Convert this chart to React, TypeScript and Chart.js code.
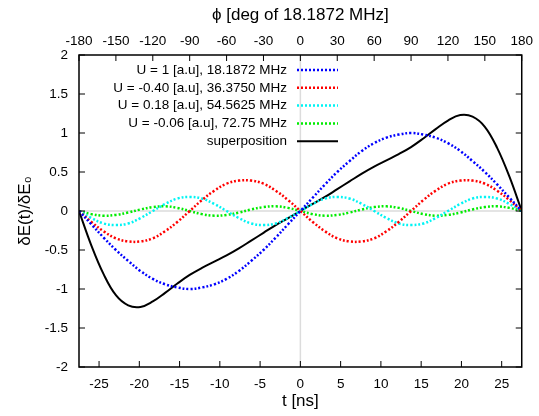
import React, { useEffect, useRef } from "react";
import { Chart, registerables } from "chart.js";

Chart.register(...registerables);

// phase of the 18.1872 MHz fundamental, degrees
const PHI = [
  -180, -170, -160, -150, -140, -130, -120, -110, -100, -90, -80, -70, -60, -50, -40, -30, -20, -10,
  0, 10, 20, 30, 40, 50, 60, 70, 80, 90, 100, 110, 120, 130, 140, 150, 160, 170, 180,
];

const U1 = [
  0, -0.17, -0.34, -0.5, -0.64, -0.77, -0.87, -0.94, -0.98, -1, -0.98, -0.94, -0.87, -0.77, -0.64, -0.5, -0.34, -0.17,
  0, 0.17, 0.34, 0.5, 0.64, 0.77, 0.87, 0.94, 0.98, 1, 0.98, 0.94, 0.87, 0.77, 0.64, 0.5, 0.34, 0.17, 0,
];
const U2 = [
  0, -0.14, -0.26, -0.35, -0.39, -0.39, -0.35, -0.26, -0.14, 0, 0.14, 0.26, 0.35, 0.39, 0.39, 0.35, 0.26, 0.14,
  0, -0.14, -0.26, -0.35, -0.39, -0.39, -0.35, -0.26, -0.14, 0, 0.14, 0.26, 0.35, 0.39, 0.39, 0.35, 0.26, 0.14, 0,
];
const U3 = [
  0, -0.09, -0.16, -0.18, -0.16, -0.09, 0, 0.09, 0.16, 0.18, 0.16, 0.09, 0, -0.09, -0.16, -0.18, -0.16, -0.09,
  0, 0.09, 0.16, 0.18, 0.16, 0.09, 0, -0.09, -0.16, -0.18, -0.16, -0.09, 0, 0.09, 0.16, 0.18, 0.16, 0.09, 0,
];
const U4 = [
  0, -0.04, -0.06, -0.05, -0.02, 0.02, 0.05, 0.06, 0.04, 0, -0.04, -0.06, -0.05, -0.02, 0.02, 0.05, 0.06, 0.04,
  0, -0.04, -0.06, -0.05, -0.02, 0.02, 0.05, 0.06, 0.04, 0, -0.04, -0.06, -0.05, -0.02, 0.02, 0.05, 0.06, 0.04, 0,
];
const SUM = [
  0, -0.44, -0.81, -1.08, -1.21, -1.23, -1.16, -1.05, -0.93, -0.82, -0.73, -0.65, -0.57, -0.48, -0.38, -0.28, -0.18, -0.09,
  0, 0.09, 0.18, 0.28, 0.38, 0.48, 0.57, 0.65, 0.73, 0.82, 0.93, 1.05, 1.16, 1.23, 1.21, 1.08, 0.81, 0.44, 0,
];

const LABELS = [
  "U = 1 [a.u], 18.1872 MHz",
  "U = -0.40 [a.u], 36.3750 MHz",
  "U = 0.18 [a.u], 54.5625 MHz",
  "U = -0.06 [a.u], 72.75 MHz",
  "superposition",
];
const COLORS = ["#0000ff", "#ff0000", "#00f4f4", "#00ec00", "#000000"];

const PHI_TICKS = [-180, -150, -120, -90, -60, -30, 0, 30, 60, 90, 120, 150, 180];
const T_TICKS = [-25, -20, -15, -10, -5, 0, 5, 10, 15, 20, 25];
const Y_TICKS = [-2, -1.5, -1, -0.5, 0, 0.5, 1, 1.5, 2];
const HALF_PERIOD_NS = 27.49;

const FONT = "'Liberation Sans', Arial, Helvetica, sans-serif";

const gnuplotPlugin = {
  id: "gnuplotDecor",
  beforeDatasetsDraw(chart: any) {
    const { ctx, chartArea, scales } = chart;
    const { left, right, top, bottom } = chartArea;
    const x0 = scales.x2.getPixelForValue(0);
    const y0 = scales.y.getPixelForValue(0);
    ctx.save();
    ctx.strokeStyle = "#dcdcdc";
    ctx.lineWidth = 1.5;
    ctx.beginPath();
    ctx.moveTo(x0, top);
    ctx.lineTo(x0, bottom);
    ctx.moveTo(left, y0);
    ctx.lineTo(right, y0);
    ctx.stroke();
    ctx.restore();
  },
  afterDatasetsDraw(chart: any) {
    const { ctx, chartArea, scales } = chart;
    const { left, right, top, bottom } = chartArea;
    const tl = 6;
    ctx.save();
    ctx.strokeStyle = "#000";
    ctx.lineWidth = 1;
    ctx.beginPath();
    scales.x.ticks.forEach((t: any) => {
      const px = scales.x.getPixelForValue(t.value);
      ctx.moveTo(px, bottom);
      ctx.lineTo(px, bottom - tl);
    });
    scales.x2.ticks.forEach((t: any) => {
      const px = scales.x2.getPixelForValue(t.value);
      ctx.moveTo(px, top);
      ctx.lineTo(px, top + tl);
    });
    scales.y.ticks.forEach((t: any) => {
      const py = scales.y.getPixelForValue(t.value);
      ctx.moveTo(left, py);
      ctx.lineTo(left + tl, py);
      ctx.moveTo(right, py);
      ctx.lineTo(right - tl, py);
    });
    ctx.stroke();
    ctx.lineWidth = 1.5;
    ctx.strokeRect(left, top, right - left, bottom - top);

    // key, gnuplot style: right-aligned text followed by a line sample
    const textRight = left + 208;
    const sampleL = left + 218;
    const sampleR = left + 259;
    const rowTop = top + 15;
    const rowH = 17.8;
    ctx.font = `13.5px ${FONT}`;
    ctx.textAlign = "right";
    ctx.textBaseline = "middle";
    chart.data.datasets.forEach((ds: any, i: number) => {
      if (!ds.label) return;
      const y = rowTop + i * rowH;
      ctx.fillStyle = "#000";
      ctx.fillText(ds.label, textRight, y);
      ctx.beginPath();
      ctx.strokeStyle = ds.borderColor;
      ctx.lineWidth = ds.borderWidth;
      ctx.setLineDash(ds.borderDash || []);
      ctx.moveTo(sampleL, y);
      ctx.lineTo(sampleR, y);
      ctx.stroke();
    });
    ctx.restore();
  },
};

export default function App() {
  const ref = useRef<HTMLCanvasElement | null>(null);

  useEffect(() => {
    if (!ref.current) return;
    const series = [U1, U2, U3, U4, SUM];
    const datasets = series.map((vals, i) => ({
      label: LABELS[i],
      data: PHI.map((p, j) => ({ x: p, y: vals[j] })),
      borderColor: COLORS[i],
      borderWidth: i === 4 ? 2 : 2.5,
      borderDash: i === 4 ? [] : [2, 2],
      pointRadius: 0,
      fill: false,
      tension: 0.4,
      xAxisID: "x2",
      yAxisID: "y",
    }));
    const tickFont = { family: FONT, size: 13.5 };
    const titleFont = { family: FONT, size: 17 };
    const chart = new Chart(ref.current, {
      type: "line",
      data: { datasets: datasets as any },
      plugins: [gnuplotPlugin],
      options: {
        responsive: false,
        animation: false,
        devicePixelRatio: 1,
        layout: { padding: { left: 0, right: 15, top: 0, bottom: 0 } },
        plugins: { legend: { display: false }, tooltip: { enabled: false } },
        scales: {
          x: {
            type: "linear",
            position: "bottom",
            min: -HALF_PERIOD_NS,
            max: HALF_PERIOD_NS,
            afterBuildTicks: (a: any) => {
              a.ticks = T_TICKS.map((v) => ({ value: v }));
            },
            afterFit: (s: any) => {
              s.height = 49;
            },
            grid: { display: false, drawTicks: false },
            border: { display: false },
            ticks: { font: tickFont, color: "#000", padding: 9, maxRotation: 0, autoSkip: false, callback: (v: any) => String(v) },
            title: { display: true, text: "t [ns]", font: titleFont, color: "#000", padding: { top: 0, bottom: 4 } },
          },
          x2: {
            type: "linear",
            position: "top",
            min: -180,
            max: 180,
            afterBuildTicks: (a: any) => {
              a.ticks = PHI_TICKS.map((v) => ({ value: v }));
            },
            afterFit: (s: any) => {
              s.height = 55;
            },
            grid: { display: false, drawTicks: false },
            border: { display: false },
            ticks: { font: tickFont, color: "#000", padding: 6, maxRotation: 0, autoSkip: false, callback: (v: any) => String(v) },
            title: { display: true, text: "ϕ [deg of 18.1872 MHz]", font: titleFont, color: "#000", padding: { top: 5, bottom: 0 } },
          },
          y: {
            type: "linear",
            position: "left",
            min: -2,
            max: 2,
            afterBuildTicks: (a: any) => {
              a.ticks = Y_TICKS.map((v) => ({ value: v }));
            },
            afterFit: (s: any) => {
              s.width = 79;
            },
            grid: { display: false, drawTicks: false },
            border: { display: false },
            ticks: { font: tickFont, color: "#000", padding: 11, autoSkip: false, callback: (v: any) => String(v) },
            title: { display: true, text: "δE(t)/δE₀", font: titleFont, color: "#000", padding: { top: 15, bottom: 0 } },
          },
        },
      },
    });
    return () => chart.destroy();
  }, []);

  return (
    <div style={{ position: "absolute", left: 0, top: 0, width: 539, height: 416, background: "#fff" }}>
      <canvas ref={ref} width={539} height={416} />
    </div>
  );
}
